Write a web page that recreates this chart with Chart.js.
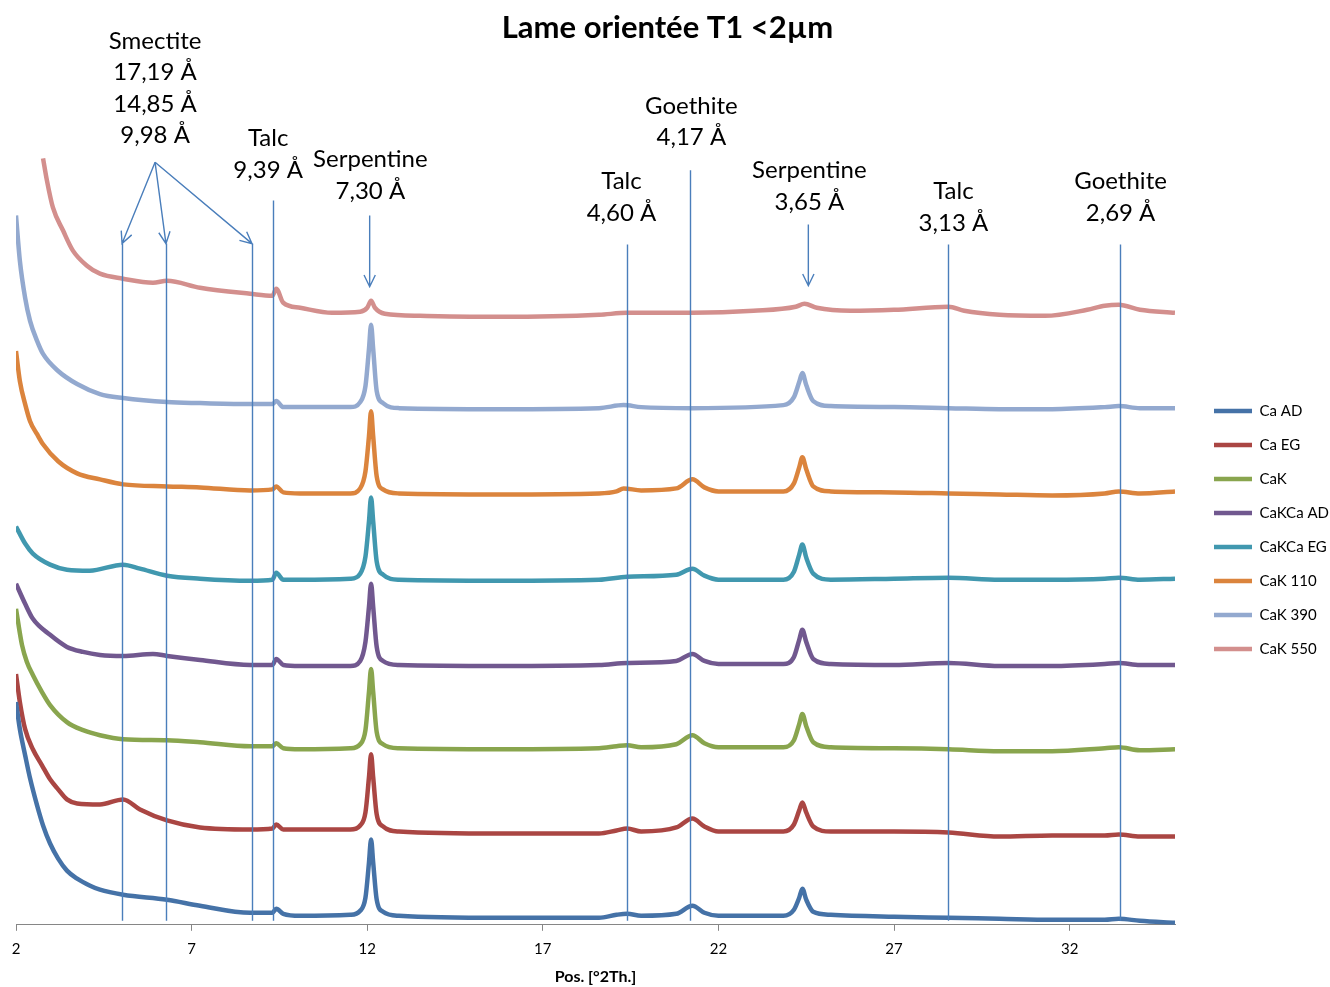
<!DOCTYPE html>
<html lang="fr">
<head>
  <meta charset="UTF-8">
  <title>Lame orientée T1 &lt;2µm</title>
  <script src="https://cdn.jsdelivr.net/npm/chart.js"></script>
  <style>
    html, body {
      margin: 0;
      padding: 0;
      background: #ffffff;
    }
    .chart-box {
      width: 1330px;
      height: 987px;
    }
  </style>
</head>
<body>
  <div class="chart-box">
    <canvas id="xrdChart"></canvas>
  </div>

  <script>
    // position en °2θ, intensité relative (traces décalées)
    const xTicks = [2, 7, 12, 17, 22, 27, 32];

    const seriesNames = ['Ca AD', 'Ca EG', 'CaK', 'CaKCa AD', 'CaKCa EG', 'CaK 110', 'CaK 390', 'CaK 550'];
    const seriesColors = ['#4572A7', '#AA4643', '#89A54E', '#71588F', '#4198AF', '#DB843D', '#93A9CF', '#D38F8D'];

    const caAD = [[2.00,222],[2.11,195],[2.26,169],[2.40,146],[2.60,119],[2.77,99],[2.97,81],[3.20,66],[3.45,54],[3.74,46],[4.11,39],[4.39,35],[5.05,30],[6.30,25],[7.24,19],[8.67,12],[9.30,12],[9.41,16],[9.61,11],[10.09,9],[11.52,10],[11.80,14],[11.95,27],[12.05,62],[12.11,85],[12.17,62],[12.27,25],[12.45,13],[12.90,9],[15.80,7],[18.60,7],[19.10,10],[19.40,11],[19.80,9],[20.80,11],[21.26,19],[21.60,12],[22.00,9],[23.85,9],[24.15,15],[24.30,27],[24.39,36],[24.50,25],[24.70,13],[25.20,10],[27.00,8],[28.55,7],[30.00,6],[31.50,5],[33.00,5],[33.40,6],[34.00,4],[35.00,2]];
    const caEG = [[2.00,250],[2.11,222],[2.26,195],[2.48,175],[2.74,159],[2.97,145],[3.20,135],[3.45,125],[3.74,121],[4.39,120],[5.05,125],[5.53,115],[6.30,104],[7.24,97],[8.67,95],[9.30,96],[9.41,100],[9.61,95],[10.09,95],[11.52,95],[11.80,99],[11.95,112],[12.05,147],[12.11,170],[12.17,147],[12.27,110],[12.45,98],[12.90,93],[15.80,91],[18.60,91],[19.10,94],[19.40,96],[19.80,93],[20.80,97],[21.26,106],[21.60,98],[22.00,93],[23.85,93],[24.15,100],[24.30,114],[24.39,122],[24.50,112],[24.70,98],[25.20,93],[27.00,93],[28.55,92],[30.00,88],[31.50,89],[33.00,89],[33.40,90],[34.00,88],[35.00,88]];
    const caK = [[2.00,315],[2.17,279],[2.31,262],[2.48,249],[2.74,232],[2.97,219],[3.45,202],[3.91,194],[4.39,189],[5.05,185],[6.30,184],[7.24,182],[8.67,178],[9.30,178],[9.41,181],[9.61,176],[10.09,175],[11.52,176],[11.80,180],[11.95,194],[12.05,232],[12.11,255],[12.17,232],[12.27,192],[12.45,180],[12.90,176],[15.80,175],[18.60,176],[19.10,178],[19.40,179],[19.80,177],[20.80,180],[21.26,189],[21.60,181],[22.00,177],[23.85,177],[24.15,184],[24.30,200],[24.39,210],[24.50,198],[24.70,182],[25.20,177],[27.00,176],[28.55,175],[30.00,173],[31.50,173],[33.00,176],[33.40,177],[34.00,174],[35.00,175]];
    const caKCaAD = [[2.00,340],[2.26,320],[2.48,305],[2.97,289],[3.45,277],[3.91,272],[4.39,269],[5.05,268],[5.90,270],[6.30,268],[7.24,264],[8.67,259],[9.30,259],[9.41,265],[9.61,259],[10.09,258],[11.52,258],[11.80,263],[11.95,282],[12.05,317],[12.11,340],[12.17,317],[12.27,277],[12.45,263],[12.90,259],[15.80,258],[18.60,259],[19.40,261],[20.80,263],[21.26,270],[21.60,263],[22.00,260],[23.85,260],[24.15,267],[24.30,284],[24.39,294],[24.50,282],[24.70,265],[25.20,260],[27.00,259],[28.55,261],[30.00,258],[31.50,258],[33.00,260],[33.40,261],[34.00,259],[35.00,259]];
    const caKCaEG = [[2.00,397],[2.26,380],[2.48,370],[2.97,359],[3.45,354],[4.10,353],[5.05,359],[5.53,355],[6.30,348],[7.24,345],[8.67,343],[9.30,344],[9.41,351],[9.61,344],[10.09,344],[11.52,345],[11.80,350],[11.95,367],[12.05,402],[12.11,426],[12.17,402],[12.27,362],[12.45,349],[12.90,344],[15.80,343],[18.60,344],[19.40,347],[20.80,349],[21.26,355],[21.60,348],[22.00,344],[23.85,344],[24.15,352],[24.30,369],[24.39,379],[24.50,366],[24.70,350],[25.20,344],[27.00,345],[28.55,346],[30.00,344],[31.50,344],[33.00,345],[33.40,346],[34.00,344],[35.00,345]];
    const caK110 = [[2.00,572],[2.11,542],[2.26,519],[2.40,502],[2.60,489],[2.77,479],[3.20,462],[3.74,450],[4.39,444],[5.05,439],[6.30,437],[7.24,436],[8.67,433],[9.30,434],[9.41,437],[9.61,431],[10.09,430],[11.52,430],[11.80,435],[11.95,452],[12.05,487],[12.11,512],[12.17,487],[12.27,447],[12.45,434],[12.90,430],[15.80,429],[18.60,430],[19.10,432],[19.30,435],[19.80,433],[20.80,435],[21.26,444],[21.60,436],[22.00,432],[23.85,432],[24.15,440],[24.30,456],[24.39,466],[24.50,454],[24.70,437],[25.20,432],[27.00,431],[28.55,430],[30.00,429],[31.50,428],[33.00,430],[33.40,432],[34.00,430],[35.00,432]];
    const caK390 = [[2.00,707],[2.11,662],[2.26,625],[2.40,602],[2.60,582],[2.77,569],[3.20,552],[3.74,539],[4.39,529],[5.05,525],[6.30,521],[7.24,520],[8.67,519],[9.30,519],[9.41,522],[9.61,516],[10.09,516],[11.52,516],[11.80,521],[11.95,537],[12.05,574],[12.11,598],[12.17,574],[12.27,532],[12.45,520],[12.90,515],[15.80,514],[18.60,515],[19.30,518],[19.80,516],[21.26,515],[23.85,518],[24.15,526],[24.30,541],[24.39,550],[24.50,538],[24.70,522],[25.20,517],[27.00,516],[28.55,515],[30.00,514],[31.50,514],[33.00,516],[33.40,517],[34.00,515],[35.00,515]];
    const caK550 = [[2.77,764],[2.88,742],[3.05,715],[3.34,692],[3.62,672],[4.02,657],[4.39,649],[5.05,644],[5.90,640],[6.30,642],[7.24,635],[8.67,629],[9.30,627],[9.41,634],[9.61,620],[10.09,615],[11.00,610],[11.80,611],[12.00,615],[12.11,622],[12.22,615],[12.50,609],[13.50,607],[15.80,606],[18.60,608],[19.40,610],[21.26,610],[23.00,612],[24.20,616],[24.45,619],[24.80,615],[25.76,612],[27.00,613],[28.55,616],[29.00,612],[30.00,608],[31.30,607],[32.50,613],[33.00,617],[33.40,618],[34.00,613],[35.00,610]];

    const seriesData = [caAD, caEG, caK, caKCaAD, caKCaEG, caK110, caK390, caK550];

    // annotations (°2θ, même unité verticale que les traces)
    const markerX = [5.02, 6.27, 8.72, 9.32, 19.41, 21.20, 28.55, 33.42];
    const markerTop = [679, 679, 679, 722, 678, 752, 678, 678];
    const markerBottom = 4;

    const labelText = [
      ['Smectite', '17,19 Å', '14,85 Å', '9,98 Å'],
      ['Talc', '9,39 Å'],
      ['Serpentine', '7,30 Å'],
      ['Talc', '4,60 Å'],
      ['Goethite', '4,17 Å'],
      ['Serpentine', '3,65 Å'],
      ['Talc', '3,13 Å'],
      ['Goethite', '2,69 Å']
    ];
    const labelX = [5.96, 9.18, 12.09, 19.24, 21.23, 24.59, 28.69, 33.45];
    const labelY = [881, 784, 763, 741, 816, 752, 731, 741];

    const arrows = [
      [5.96, 760, 5.02, 679],
      [5.96, 760, 6.27, 679],
      [5.96, 760, 8.72, 679],
      [12.07, 707, 12.07, 636],
      [24.56, 698, 24.56, 637]
    ];

    const annotationColor = '#4A7EBB';

    const annotations = {
      id: 'annotations',
      afterLayout(chart) {
        // légende décalée comme dans Excel
        const lg = chart.legend;
        const dx = chart.chartArea.right + 20 - lg.left;
        lg.left += dx; lg.right += dx;
        lg.top += 37; lg.bottom += 37;
      },
      afterDatasetsDraw(chart) {
        const {ctx, scales: {x, y}} = chart;
        ctx.save();
        ctx.strokeStyle = annotationColor;
        ctx.lineWidth = 1.4;

        markerX.forEach((mx, i) => {
          const px = Math.round(x.getPixelForValue(mx)) + 0.5;
          ctx.beginPath();
          ctx.moveTo(px, y.getPixelForValue(markerTop[i]));
          ctx.lineTo(px, y.getPixelForValue(markerBottom));
          ctx.stroke();
        });

        arrows.forEach(([x1, y1, x2, y2]) => {
          const ax = x.getPixelForValue(x1), ay = y.getPixelForValue(y1);
          const bx = x.getPixelForValue(x2), by = y.getPixelForValue(y2);
          const ang = Math.atan2(by - ay, bx - ax);
          const len = 13, spread = 0.45;
          ctx.beginPath();
          ctx.moveTo(ax, ay);
          ctx.lineTo(bx, by);
          ctx.moveTo(bx - len * Math.cos(ang - spread), by - len * Math.sin(ang - spread));
          ctx.lineTo(bx, by);
          ctx.lineTo(bx - len * Math.cos(ang + spread), by - len * Math.sin(ang + spread));
          ctx.stroke();
        });

        ctx.fillStyle = '#000';
        ctx.font = '24px Lato, "Open Sans", sans-serif';
        ctx.textAlign = 'center';
        ctx.textBaseline = 'middle';
        labelText.forEach((lines, i) => {
          const cx = x.getPixelForValue(labelX[i]);
          const cy = y.getPixelForValue(labelY[i]);
          lines.forEach((t, k) => ctx.fillText(t, cx, cy + k * 31.6));
        });
        ctx.restore();
      }
    };

    const ctx = document.getElementById('xrdChart').getContext('2d');
    new Chart(ctx, {
      type: 'line',
      data: {
        datasets: seriesNames.map((name, i) => ({
          label: name,
          data: seriesData[i].map(p => ({x: p[0], y: p[1]})),
          borderColor: seriesColors[i],
          backgroundColor: seriesColors[i],
          borderWidth: 4.5,
          pointRadius: 0,
          cubicInterpolationMode: 'monotone',
          fill: false
        }))
      },
      options: {
        responsive: true,
        maintainAspectRatio: false,
        animation: false,
        layout: {
          padding: {left: 16, right: 11, top: 0, bottom: 1}
        },
        plugins: {
          title: {
            display: true,
            text: 'Lame orientée T1 <2µm',
            color: '#000',
            font: {family: 'Lato', size: 31, weight: 'bold'},
            padding: {top: 9, bottom: 76}
          },
          legend: {
            position: 'right',
            labels: {
              usePointStyle: true,
              pointStyle: 'line',
              pointStyleWidth: 38,
              padding: 19,
              color: '#000',
              font: {family: 'Lato', size: 15}
            }
          },
          tooltip: {enabled: false}
        },
        scales: {
          x: {
            type: 'linear',
            min: 2,
            max: 35,
            afterBuildTicks: (axis) => {
              axis.ticks = xTicks.map(v => ({value: v}));
            },
            grid: {
              drawOnChartArea: false,
              drawTicks: true,
              tickLength: 6,
              color: '#868686'
            },
            border: {display: true, color: '#868686', width: 1},
            ticks: {
              color: '#000',
              padding: 9,
              maxRotation: 0,
              font: {family: 'Lato', size: 15}
            },
            title: {
              display: true,
              text: 'Pos. [°2Th.]',
              color: '#000',
              font: {family: 'Lato', size: 16, weight: 'bold'},
              padding: {top: 0, bottom: 0}
            }
          },
          y: {
            display: false,
            min: 0,
            max: 800
          }
        }
      },
      plugins: [annotations]
    });
  </script>
</body>
</html>
